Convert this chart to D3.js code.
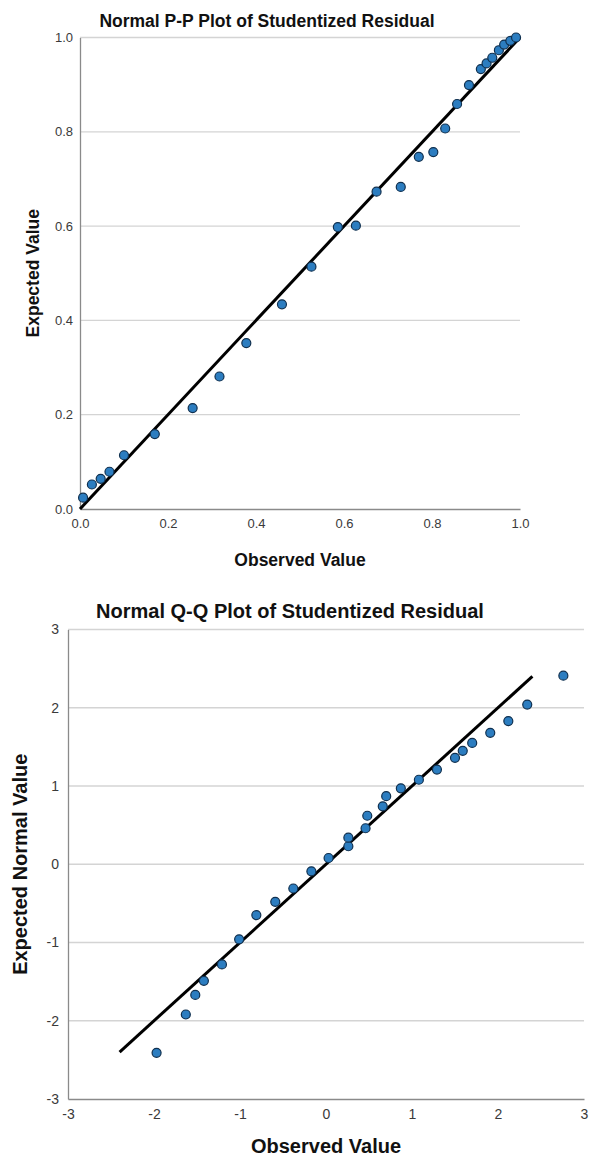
<!DOCTYPE html>
<html>
  <head>
    <meta charset="utf-8">
    <title>Normal P-P and Q-Q Plots</title>
    <script src="https://d3js.org/d3.v7.min.js"></script>
    <style>
      body { margin: 0; background: #fff; }
      text { font-family: Arial, "Liberation Sans", sans-serif; }
    </style>
  </head>
  <body>
    <script>
      // P-P plot: observed vs expected cumulative probability
      var ppObserved = [0.007, 0.027, 0.047, 0.067, 0.10, 0.17, 0.256, 0.317, 0.378, 0.459,
                        0.526, 0.586, 0.627, 0.674, 0.729, 0.770, 0.803, 0.830, 0.857, 0.884,
                        0.911, 0.924, 0.937, 0.952, 0.964, 0.978, 0.991];
      var ppExpected = [0.024, 0.052, 0.064, 0.079, 0.114, 0.159, 0.214, 0.281, 0.352, 0.434,
                        0.514, 0.598, 0.601, 0.673, 0.683, 0.747, 0.757, 0.807, 0.859, 0.899,
                        0.933, 0.945, 0.957, 0.973, 0.985, 0.993, 1.000];
      var ppTicks = [0, 0.2, 0.4, 0.6, 0.8, 1.0];

      // Q-Q plot: observed value vs expected normal value
      var qqObserved = [-1.97, -1.63, -1.52, -1.42, -1.21, -1.01, -0.81, -0.59, -0.38, -0.17,
                        0.03, 0.26, 0.26, 0.46, 0.48, 0.66, 0.70, 0.87, 1.08, 1.29,
                        1.50, 1.59, 1.70, 1.91, 2.12, 2.34, 2.76];
      var qqExpected = [-2.41, -1.92, -1.67, -1.49, -1.28, -0.96, -0.65, -0.48, -0.31, -0.09,
                        0.08, 0.23, 0.34, 0.46, 0.62, 0.74, 0.87, 0.97, 1.08, 1.21,
                        1.36, 1.45, 1.55, 1.68, 1.83, 2.04, 2.41];
      var qqTicks = [-3, -2, -1, 0, 1, 2, 3];
      var qqLine = [-2.4, 2.4];

      var width = 594, height = 1159;
      var svg = d3.select("body").append("svg").attr("width", width).attr("height", height);

      function drawPlot(cfg) {
        var x = d3.scaleLinear().domain(cfg.domain).range([cfg.left, cfg.right]);
        var y = d3.scaleLinear().domain(cfg.domain).range([cfg.bottom, cfg.top]);
        var g = svg.append("g");

        // horizontal gridlines
        g.selectAll("line.grid")
          .data(cfg.ticks.slice(1))
          .enter().append("line")
          .attr("class", "grid")
          .attr("x1", cfg.left).attr("x2", cfg.right)
          .attr("y1", function(d) { return y(d); }).attr("y2", function(d) { return y(d); })
          .attr("stroke", "#d4d4d4").attr("stroke-width", 1.3);

        var axisY = d3.axisLeft(y).tickValues(cfg.ticks).tickSize(0).tickPadding(cfg.yPad).tickFormat(cfg.fmt);
        var gy = g.append("g").attr("transform", "translate(" + cfg.left + ",0)").call(axisY);
        var axisX = d3.axisBottom(x).tickValues(cfg.ticks).tickSize(0).tickPadding(cfg.xPad).tickFormat(cfg.fmt);
        var gx = g.append("g").attr("transform", "translate(0," + cfg.bottom + ")").call(axisX);
        [gy, gx].forEach(function(a) {
          a.select(".domain").attr("stroke", "#8a8a8a").attr("stroke-width", 1.3);
          a.selectAll("text").attr("fill", "#3a3a3a").attr("font-size", cfg.tickSize)
            .attr("font-family", "Arial, 'Liberation Sans', sans-serif");
        });

        // reference line
        g.append("line")
          .attr("x1", x(cfg.line[0])).attr("y1", y(cfg.line[0]))
          .attr("x2", x(cfg.line[1])).attr("y2", y(cfg.line[1]))
          .attr("stroke", "#000").attr("stroke-width", 3);

        // points
        g.selectAll("circle")
          .data(d3.zip(cfg.xs, cfg.ys))
          .enter().append("circle")
          .attr("cx", function(d) { return x(d[0]); })
          .attr("cy", function(d) { return y(d[1]); })
          .attr("r", cfg.r)
          .attr("fill", "#2c7dc0")
          .attr("stroke", "#10304f")
          .attr("stroke-width", 1.2);

        // titles
        g.append("text").attr("x", cfg.titleX).attr("y", cfg.titleY)
          .attr("text-anchor", "middle").attr("font-weight", "bold")
          .attr("font-size", cfg.titleSize).attr("fill", "#111").text(cfg.title);
        g.append("text").attr("x", (cfg.left + cfg.right) / 2).attr("y", cfg.xLabelY)
          .attr("text-anchor", "middle").attr("font-weight", "bold")
          .attr("font-size", cfg.labelSize).attr("fill", "#111").text("Observed Value");
        g.append("text")
          .attr("transform", "translate(" + cfg.yLabelX + "," + (cfg.top + cfg.bottom) / 2 + ") rotate(-90)")
          .attr("text-anchor", "middle").attr("font-weight", "bold")
          .attr("font-size", cfg.labelSize).attr("fill", "#111").text(cfg.yLabel);
      }

      drawPlot({
        domain: [0, 1], ticks: ppTicks, fmt: d3.format(".1f"),
        left: 80, right: 520, top: 37.5, bottom: 509,
        xs: ppObserved, ys: ppExpected, line: [0, 1], r: 4.5,
        yPad: 7, xPad: 10, tickSize: 13,
        title: "Normal P-P Plot of Studentized Residual", titleX: 267, titleY: 27, titleSize: 17.5,
        xLabelY: 566, yLabel: "Expected Value", yLabelX: 39, labelSize: 17.5
      });

      drawPlot({
        domain: [-3, 3], ticks: qqTicks, fmt: function(d) { return String(d); },
        left: 68, right: 584, top: 629.5, bottom: 1099,
        xs: qqObserved, ys: qqExpected, line: qqLine, r: 4.5,
        yPad: 9, xPad: 10, tickSize: 14,
        title: "Normal Q-Q Plot of Studentized Residual", titleX: 290, titleY: 618, titleSize: 20,
        xLabelY: 1153, yLabel: "Expected Normal Value", yLabelX: 27, labelSize: 20
      });
    </script>
  </body>
</html>
